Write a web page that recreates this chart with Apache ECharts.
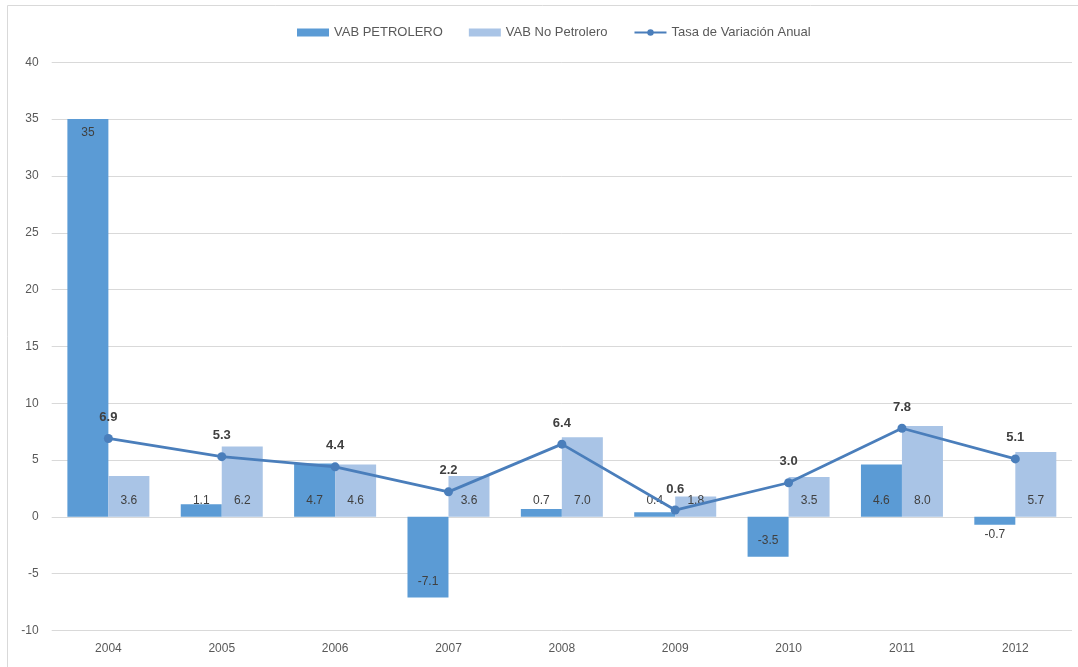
<!DOCTYPE html>
<html><head><meta charset="utf-8">
<script src="https://cdn.jsdelivr.net/npm/echarts@6/dist/echarts.min.js"></script>
<style>html,body{margin:0;padding:0;background:#fff}#c{width:1078px;height:667px}</style>
</head><body><div id="c"></div>
<script>
const categories = ['2004','2005','2006','2007','2008','2009','2010','2011','2012'];
const vabPetrolero = [35, 1.1, 4.7, -7.1, 0.7, 0.4, -3.5, 4.6, -0.7];
const vabNoPetrolero = [3.6, 6.2, 4.6, 3.6, 7.0, 1.8, 3.5, 8.0, 5.7];
const tasaVariacion = [6.9, 5.3, 4.4, 2.2, 6.4, 0.6, 3.0, 7.8, 5.1];

const font = 'Liberation Sans, Arial, sans-serif';
const lblColor = '#404040';

function barLabel(v) {
  if (v > 20) return {position: 'insideTop', distance: 8};
  if (v < 0 && v > -1) return {position: 'bottom', distance: 4};
  return {position: 'insideBottom', distance: 10};
}
const petroData = vabPetrolero.map(v => ({value: v, label: barLabel(v)}));
const noPetroData = vabNoPetrolero.map(v => ({value: v, label: barLabel(v)}));

const chart = echarts.init(document.getElementById('c'));
chart.setOption({
  animation: false,
  textStyle: {fontFamily: font},
  legend: {
    top: 21, left: 292, itemGap: 26, itemWidth: 32, itemHeight: 8,
    textStyle: {fontSize: 13, color: '#595959', fontFamily: font},
    data: [
      {name: 'VAB PETROLERO', icon: 'rect'},
      {name: 'VAB No Petrolero', icon: 'rect'},
      {name: 'Tasa de Variación Anual'}
    ]
  },
  grid: {left: 51.7, right: 6, top: 62.3, bottom: 36.5, containLabel: false},
  xAxis: {
    type: 'category', data: categories,
    axisLine: {show: false}, axisTick: {show: false},
    axisLabel: {color: '#595959', fontSize: 12, margin: 12, fontFamily: font}
  },
  yAxis: {
    type: 'value', min: -10, max: 40, interval: 5,
    axisLine: {show: false}, axisTick: {show: false},
    axisLabel: {color: '#595959', fontSize: 12, margin: 13, fontFamily: font},
    splitLine: {lineStyle: {color: '#d9d9d9', width: 1}}
  },
  graphic: [
    {type: 'line', shape: {x1: 7.5, y1: 5.5, x2: 1078, y2: 5.5}, style: {stroke: '#d9d9d9', lineWidth: 1}},
    {type: 'line', shape: {x1: 7.5, y1: 5.5, x2: 7.5, y2: 667}, style: {stroke: '#d9d9d9', lineWidth: 1}}
  ],
  series: [
    {
      name: 'VAB PETROLERO', type: 'bar', data: petroData, barWidth: 41, barGap: '0%',
      itemStyle: {color: '#5B9BD5'},
      label: {show: true, color: lblColor, fontSize: 12, fontFamily: font, formatter: p => (p.value === 35 ? '35' : p.value.toFixed(1))}
    },
    {
      name: 'VAB No Petrolero', type: 'bar', data: noPetroData, barWidth: 41, barGap: '0%',
      itemStyle: {color: '#A9C4E6'},
      label: {show: true, color: lblColor, fontSize: 12, fontFamily: font, formatter: p => p.value.toFixed(1)}
    },
    {
      name: 'Tasa de Variación Anual', type: 'line', data: tasaVariacion,
      symbol: 'circle', symbolSize: 9,
      lineStyle: {color: '#4A7EBB', width: 2.75},
      itemStyle: {color: '#4A7EBB'},
      label: {show: true, position: 'top', distance: 10, color: lblColor, fontSize: 13, fontWeight: 'bold', fontFamily: font,
        formatter: p => p.value.toFixed(1)},
      z: 5
    }
  ]
});
</script></body></html>
